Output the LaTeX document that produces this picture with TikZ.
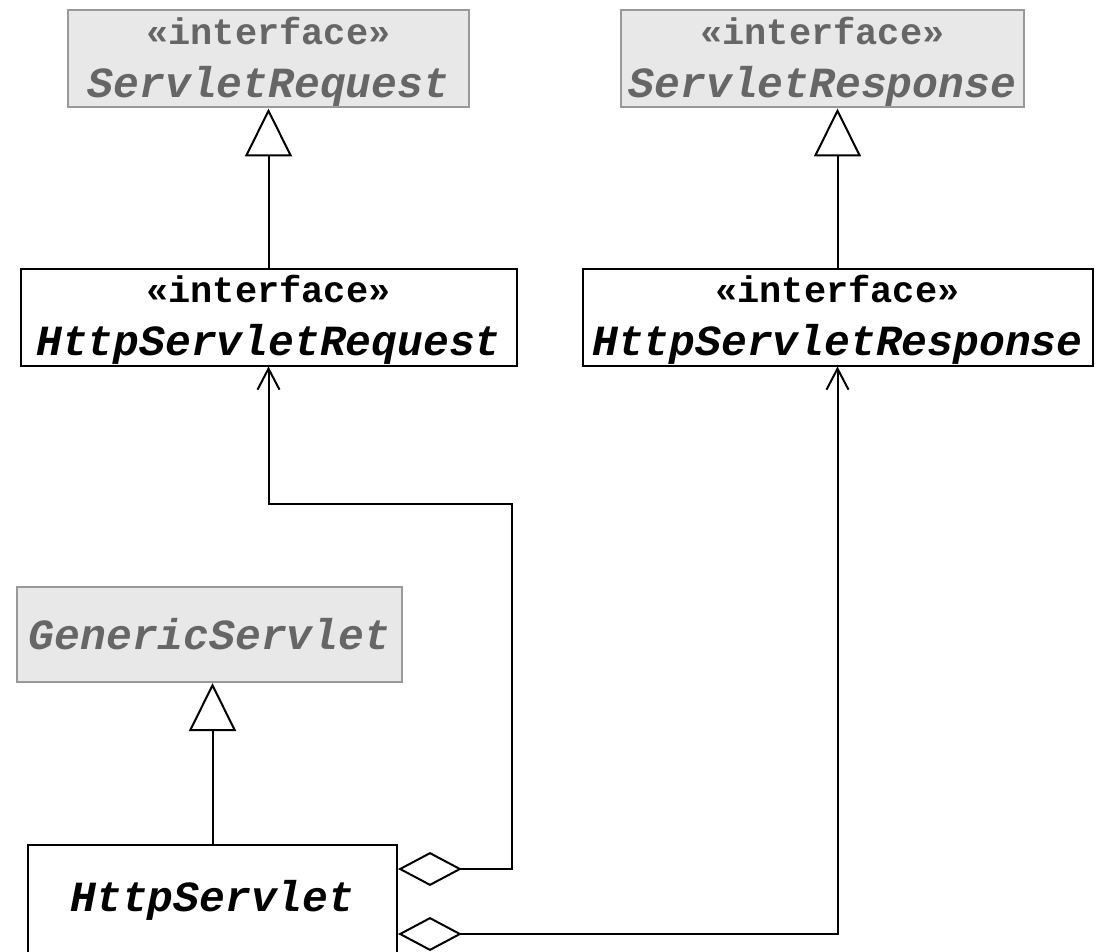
\documentclass[tikz,border=0pt]{standalone}
\usepackage{fontspec}
\setmonofont{Liberation Mono}
\usetikzlibrary{arrows.meta,positioning}

\definecolor{libfill}{HTML}{E8E8E8}
\definecolor{libdraw}{HTML}{999999}
\definecolor{libtext}{HTML}{666666}

\newcommand{\stereo}{{\fontsize{37}{53}\selectfont\upshape\rule{0pt}{33pt}«interface»}}

\begin{document}
\begin{tikzpicture}[x=1pt,y=-1pt,line width=2pt,
	font=\fontsize{43}{53}\selectfont\ttfamily\bfseries\itshape,
	cls/.style={draw,rectangle,align=center,inner sep=0pt,minimum height=97pt},
	lib/.style={cls,fill=libfill,draw=libdraw,text=libtext},
	inherit/.style={-{Triangle[open,length=48pt,width=47pt]}},
	agg/.style={{Diamond[open,length=64pt,width=34pt]}-{Straight Barb[length=21pt,width=22pt]}}]

	\useasboundingbox (0,0) rectangle (1102,952);

	\node[lib,minimum width=401pt] (sreq) at (268.5,59) {\stereo\\ServletRequest};
	\node[cls,minimum width=496pt,below=159pt of sreq] (hreq) {\stereo\\HttpServletRequest};
	\node[cls,minimum width=510pt,right=64pt of hreq] (hresp) {\stereo\\HttpServletResponse};
	\node[lib,minimum width=403pt,above=159pt of hresp,xshift=-15pt] (sresp) {\stereo\\ServletResponse};
	\node[lib,minimum width=385pt,minimum height=95pt] (gen) at (209.5,634.5) {GenericServlet};
	\node[cls,minimum width=369pt,minimum height=110pt,below=161pt of gen,xshift=3pt] (hs) {HttpServlet};

	\draw[inherit] (hreq.north) -- (hreq.north |- sreq.south);
	\draw[inherit] (hresp.north) -- (hresp.north |- sresp.south);
	\draw[inherit] (hs.north) -- (hs.north |- gen.south);

	\draw[agg] ([yshift=31pt]hs.east) -| (512,504) -| (hreq.south);
	\draw[agg] ([yshift=-34pt]hs.east) -| (hresp.south);
\end{tikzpicture}
\end{document}
